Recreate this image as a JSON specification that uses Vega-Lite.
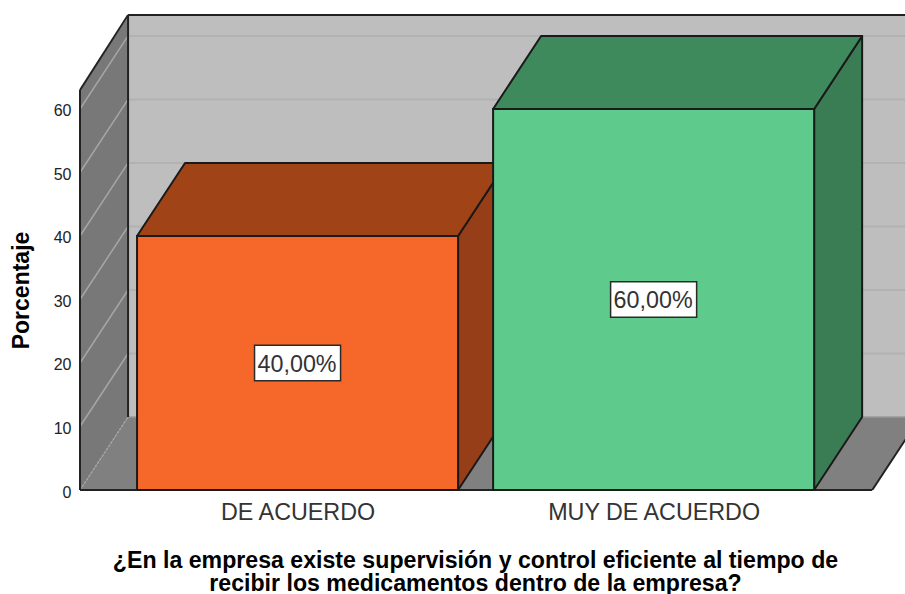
{
  "$schema": "https://vega.github.io/schema/vega-lite/v6.json",
  "width": 825,
  "height": 475,
  "autosize": "none",
  "padding": {"left": 80, "top": 15, "right": 0, "bottom": 104},
  "background": "white",
  "view": {"stroke": null},
  "config": {"font": "Liberation Sans"},
  "params": [
    {"name": "fondoX", "value": 0.1348},
    {"name": "fondoY", "value": 11.5},
    {"name": "mitadBarra", "value": 0.4508}
  ],
  "datasets": {
    "respuestas": [
      {"respuesta": "DE ACUERDO", "porcentaje": 40},
      {"respuesta": "MUY DE ACUERDO", "porcentaje": 60}
    ],
    "marcas": [
      {"marca": 10}, {"marca": 20}, {"marca": 30}, {"marca": 40}, {"marca": 50}, {"marca": 60}
    ],
    "caja": [{"parte": "pared"}]
  },
  "layer": [
    {
      "data": {"name": "caja"},
      "mark": {"type": "rect", "fill": "#BEBEBE"},
      "encoding": {
        "x": {
          "datum": 0.524,
          "type": "quantitative",
          "scale": {"domain": [0.389, 2.706], "nice": false, "zero": false},
          "axis": {
            "values": [1, 2],
            "labelExpr": "datum.value == 1 ? 'DE ACUERDO' : 'MUY DE ACUERDO'",
            "domain": false,
            "ticks": false,
            "grid": false,
            "labelFontSize": 23.3,
            "labelColor": "#333333",
            "labelPadding": 11,
            "labelFlush": false,
            "labelLimit": 400,
            "title": ["¿En la empresa existe supervisión y control eficiente al tiempo de", "recibir los medicamentos dentro de la empresa?"],
            "titleFont": "Liberation Sans",
            "titleFontSize": 23.15,
            "titleFontWeight": "bold",
            "titleColor": "#000000",
            "titleX": 395,
            "titleY": 77,
            "titleLineHeight": 23,
            "titleBaseline": "alphabetic"
          }
        },
        "x2": {"datum": 2.706},
        "y": {
          "datum": 11.5,
          "type": "quantitative",
          "scale": {"domain": [0, 74.8], "nice": false, "zero": false},
          "axis": {
            "values": [0, 10, 20, 30, 40, 50, 60],
            "domain": false,
            "ticks": false,
            "grid": false,
            "labelFontSize": 16,
            "labelColor": "#222222",
            "labelPadding": 9,
            "labelOffset": 2,
            "title": "Porcentaje",
            "titleFont": "Liberation Sans",
            "titleFontSize": 23,
            "titleFontWeight": "bold",
            "titleColor": "#000000",
            "titleX": -47,
            "titleY": 275
          }
        },
        "y2": {"datum": 74.8}
      }
    },
    {
      "data": {"name": "caja"},
      "transform": [
        {"calculate": "[0, 1]", "as": "t"},
        {"flatten": ["t"]},
        {"calculate": "0.389 + datum.t * fondoX", "as": "xp"},
        {"calculate": "datum.t * fondoY", "as": "y0"},
        {"calculate": "63 + datum.t * fondoY", "as": "y1"}
      ],
      "mark": {"type": "area", "fill": "#787878", "orient": "vertical"},
      "encoding": {
        "x": {"field": "xp", "type": "quantitative"},
        "y": {"field": "y0", "type": "quantitative", "stack": null},
        "y2": {"field": "y1"}
      }
    },
    {
      "data": {"name": "caja"},
      "transform": [
        {"calculate": "[0, 1]", "as": "t"},
        {"flatten": ["t"]},
        {"calculate": "0.389 + datum.t * fondoX", "as": "x0"},
        {"calculate": "2.614 + datum.t * fondoX", "as": "x1"},
        {"calculate": "datum.t * fondoY", "as": "yp"}
      ],
      "mark": {"type": "area", "fill": "#808080", "orient": "horizontal", "clip": true},
      "encoding": {
        "y": {"field": "yp", "type": "quantitative"},
        "x": {"field": "x0", "type": "quantitative", "stack": null},
        "x2": {"field": "x1"}
      }
    },
    {
      "data": {"name": "marcas"},
      "transform": [{"calculate": "datum.marca + fondoY", "as": "yf"}],
      "mark": {"type": "rule", "stroke": "#B2B2B2", "strokeWidth": 2},
      "encoding": {
        "x": {"datum": 0.524, "type": "quantitative"},
        "x2": {"datum": 2.706},
        "y": {"field": "yf", "type": "quantitative"}
      }
    },
    {
      "data": {"name": "marcas"},
      "transform": [{"calculate": "datum.marca + fondoY", "as": "yf"}],
      "mark": {"type": "rule", "stroke": "#A6A6A6", "strokeWidth": 1.5},
      "encoding": {
        "x": {"datum": 0.389, "type": "quantitative"},
        "x2": {"datum": 0.524},
        "y": {"field": "marca", "type": "quantitative"},
        "y2": {"field": "yf"}
      }
    },
    {
      "data": {"name": "caja"},
      "mark": {"type": "rule", "stroke": "#999999", "strokeWidth": 1.5},
      "encoding": {
        "x": {"datum": 0.524, "type": "quantitative"},
        "x2": {"datum": 2.706},
        "y": {"datum": 11.5, "type": "quantitative"}
      }
    },
    {
      "data": {"name": "caja"},
      "mark": {"type": "rule", "stroke": "#A6A6A6", "strokeWidth": 1.5, "strokeDash": [2, 2]},
      "encoding": {
        "x": {"datum": 0.389, "type": "quantitative"},
        "x2": {"datum": 0.524},
        "y": {"datum": 0, "type": "quantitative"},
        "y2": {"datum": 11.5}
      }
    },
    {
      "data": {"name": "caja"},
      "mark": {"type": "rule", "stroke": "#222222", "strokeWidth": 2},
      "encoding": {
        "x": {"datum": 0.389, "type": "quantitative"},
        "y": {"datum": 0, "type": "quantitative"},
        "y2": {"datum": 63}
      }
    },
    {
      "data": {"name": "caja"},
      "mark": {"type": "rule", "stroke": "#222222", "strokeWidth": 2},
      "encoding": {
        "x": {"datum": 0.524, "type": "quantitative"},
        "y": {"datum": 11.5, "type": "quantitative"},
        "y2": {"datum": 74.8}
      }
    },
    {
      "data": {"name": "caja"},
      "mark": {"type": "rule", "stroke": "#222222", "strokeWidth": 2},
      "encoding": {
        "x": {"datum": 0.389, "type": "quantitative"},
        "x2": {"datum": 0.524},
        "y": {"datum": 63, "type": "quantitative"},
        "y2": {"datum": 74.8}
      }
    },
    {
      "data": {"name": "caja"},
      "mark": {"type": "rule", "stroke": "#222222", "strokeWidth": 2},
      "encoding": {
        "x": {"datum": 0.524, "type": "quantitative"},
        "x2": {"datum": 2.706},
        "y": {"datum": 74.8, "type": "quantitative"}
      }
    },
    {
      "data": {"name": "caja"},
      "mark": {"type": "rule", "stroke": "#222222", "strokeWidth": 2},
      "encoding": {
        "x": {"datum": 0.389, "type": "quantitative"},
        "x2": {"datum": 2.614},
        "y": {"datum": 0, "type": "quantitative"}
      }
    },
    {
      "data": {"name": "caja"},
      "mark": {"type": "rule", "stroke": "#222222", "strokeWidth": 2, "clip": true},
      "encoding": {
        "x": {"datum": 2.614, "type": "quantitative"},
        "x2": {"datum": 2.749},
        "y": {"datum": 0, "type": "quantitative"},
        "y2": {"datum": 11.5}
      }
    },
    {
      "data": {"name": "respuestas"},
      "transform": [
        {"calculate": "datum.respuesta === 'DE ACUERDO' ? 1 : 2", "as": "pos"},
        {"calculate": "[0, 1]", "as": "t"},
        {"flatten": ["t"]},
        {"calculate": "datum.pos + mitadBarra + datum.t * fondoX", "as": "xp"},
        {"calculate": "datum.t * fondoY", "as": "y0"},
        {"calculate": "datum.porcentaje + datum.t * fondoY", "as": "y1"}
      ],
      "mark": {"type": "area", "orient": "vertical", "stroke": "#1A1A1A", "strokeWidth": 2, "strokeJoin": "round"},
      "encoding": {
        "x": {"field": "xp", "type": "quantitative"},
        "y": {"field": "y0", "type": "quantitative", "stack": null},
        "y2": {"field": "y1"},
        "fill": {
          "field": "respuesta",
          "type": "nominal",
          "legend": null,
          "scale": {"domain": ["DE ACUERDO", "MUY DE ACUERDO"], "range": ["#963E17", "#3A7C53"]}
        }
      }
    },
    {
      "data": {"name": "respuestas"},
      "transform": [
        {"calculate": "datum.respuesta === 'DE ACUERDO' ? 1 : 2", "as": "pos"},
        {"calculate": "[0, 1]", "as": "t"},
        {"flatten": ["t"]},
        {"calculate": "datum.pos - mitadBarra + datum.t * fondoX", "as": "x0"},
        {"calculate": "datum.pos + mitadBarra + datum.t * fondoX", "as": "x1"},
        {"calculate": "datum.porcentaje + datum.t * fondoY", "as": "yp"}
      ],
      "mark": {"type": "area", "orient": "horizontal", "stroke": "#1A1A1A", "strokeWidth": 2, "strokeJoin": "round"},
      "encoding": {
        "y": {"field": "yp", "type": "quantitative"},
        "x": {"field": "x0", "type": "quantitative", "stack": null},
        "x2": {"field": "x1"},
        "fill": {
          "field": "respuesta",
          "type": "nominal",
          "legend": null,
          "scale": {"domain": ["DE ACUERDO", "MUY DE ACUERDO"], "range": ["#A04418", "#3F8A5C"]}
        }
      }
    },
    {
      "data": {"name": "respuestas"},
      "transform": [
        {"calculate": "datum.respuesta === 'DE ACUERDO' ? 1 : 2", "as": "pos"},
        {"calculate": "datum.pos - mitadBarra", "as": "x0"},
        {"calculate": "datum.pos + mitadBarra", "as": "x1"}
      ],
      "mark": {"type": "rect", "stroke": "#1A1A1A", "strokeWidth": 2},
      "encoding": {
        "x": {"field": "x0", "type": "quantitative"},
        "x2": {"field": "x1"},
        "y": {"field": "porcentaje", "type": "quantitative"},
        "y2": {"datum": 0},
        "fill": {
          "field": "respuesta",
          "type": "nominal",
          "legend": null,
          "scale": {"domain": ["DE ACUERDO", "MUY DE ACUERDO"], "range": ["#F5682A", "#5ECB8C"]}
        }
      }
    },
    {
      "data": {"name": "respuestas"},
      "transform": [
        {"calculate": "datum.respuesta === 'DE ACUERDO' ? 1 : 2", "as": "pos"},
        {"calculate": "datum.pos - 0.1208", "as": "x0"},
        {"calculate": "datum.pos + 0.1208", "as": "x1"},
        {"calculate": "datum.porcentaje / 2 - 2.8", "as": "y0"},
        {"calculate": "datum.porcentaje / 2 + 2.8", "as": "y1"}
      ],
      "mark": {"type": "rect", "fill": "#FFFFFF", "stroke": "#2A2A2A", "strokeWidth": 1.5},
      "encoding": {
        "x": {"field": "x0", "type": "quantitative"},
        "x2": {"field": "x1"},
        "y": {"field": "y0", "type": "quantitative"},
        "y2": {"field": "y1"}
      }
    },
    {
      "data": {"name": "respuestas"},
      "transform": [
        {"calculate": "datum.respuesta === 'DE ACUERDO' ? 1 : 2", "as": "pos"},
        {"calculate": "datum.porcentaje / 2", "as": "medio"},
        {"calculate": "replace(format(datum.porcentaje, '.2f'), '.', ',') + '%'", "as": "etiqueta"}
      ],
      "mark": {"type": "text", "fontSize": 23.3, "color": "#333333", "baseline": "middle", "align": "center", "dy": 2, "dx": -0.5},
      "encoding": {
        "x": {"field": "pos", "type": "quantitative"},
        "y": {"field": "medio", "type": "quantitative"},
        "text": {"field": "etiqueta"}
      }
    }
  ],
  "resolve": {"scale": {"fill": "independent"}}
}
